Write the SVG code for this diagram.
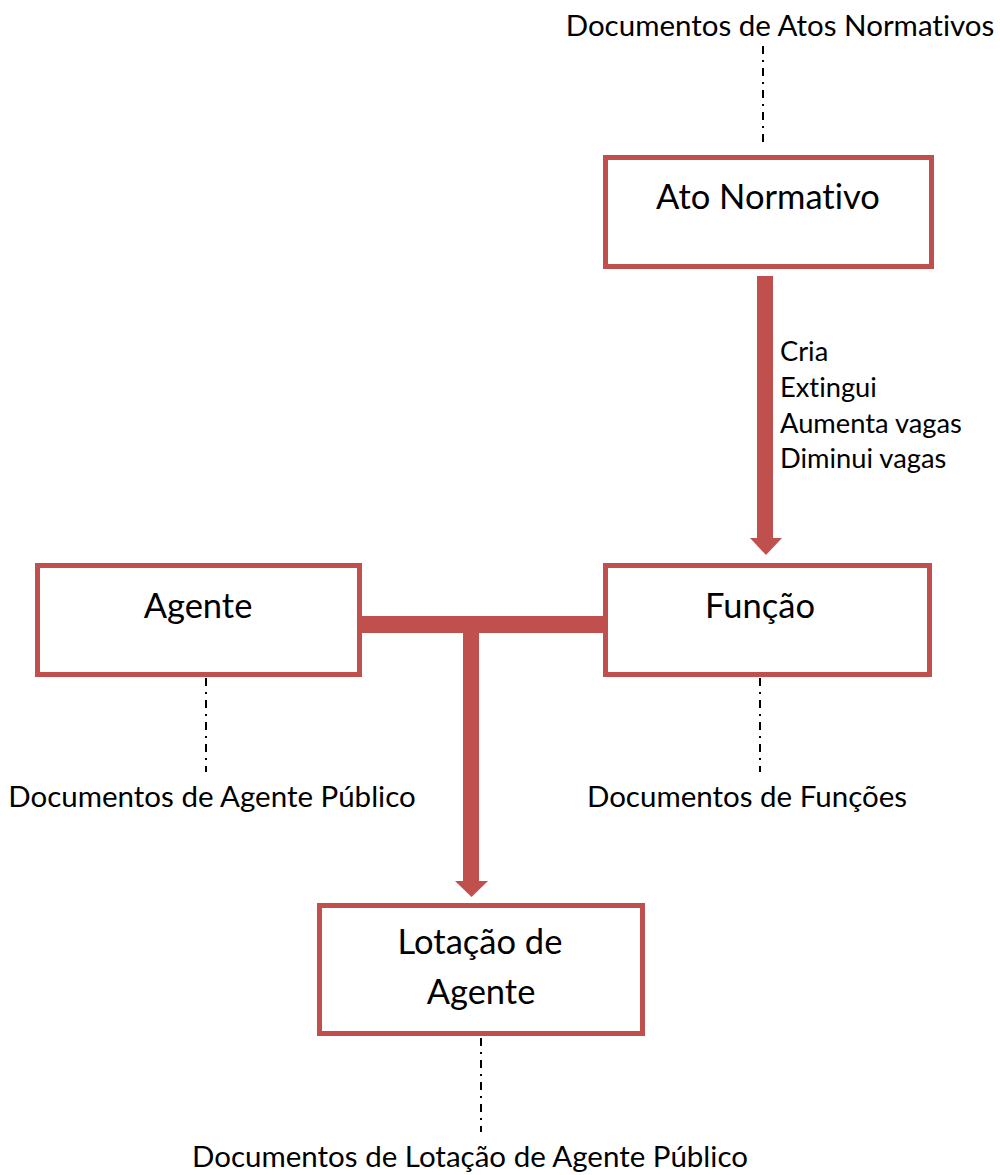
<svg xmlns="http://www.w3.org/2000/svg" width="1000" height="1175" viewBox="0 0 1000 1175">
<style>
.box{fill:#fff;stroke:#C0504D;stroke-width:5}
.t{font-family:Lato,"Open Sans",sans-serif;fill:#000;font-variant-ligatures:none;font-feature-settings:"liga" 0,"dlig" 0}
.big{font-size:34.5px;text-anchor:middle}
.doc{font-size:29.5px;text-anchor:middle}
.lbl{font-size:27.3px}
.dd{stroke:#000;stroke-width:2;stroke-dasharray:8 6 2 6;fill:none}
.bar{fill:#C0504D}
</style>
<rect width="1000" height="1175" fill="#fff"/>
<g id="connectors">
<line class="dd" x1="763" y1="46" x2="763" y2="142"/>
<line class="dd" x1="206" y1="678" x2="206" y2="772"/>
<line class="dd" x1="760" y1="678" x2="760" y2="772"/>
<line class="dd" x1="481" y1="1038" x2="481" y2="1132"/>
<rect class="bar" x="757" y="276" width="16" height="263"/>
<polygon class="bar" points="750,538 782,538 766,555"/>
<rect class="bar" x="362" y="616" width="241" height="17"/>
<rect class="bar" x="463" y="630" width="16" height="252"/>
<polygon class="bar" points="455,881 488,881 471.5,897"/>
<text class="t lbl" x="780" y="361">Cria</text>
<text class="t lbl" x="780" y="397">Extingui</text>
<text class="t lbl" x="780" y="433">Aumenta vagas</text>
<text class="t lbl" x="780" y="468">Diminui vagas</text>
</g>
<g id="doc-atos"><text class="t doc" x="780" y="36">Documentos de Atos Normativos</text></g>
<g id="ato-normativo">
<rect class="box" x="605.5" y="157.5" width="326" height="109"/>
<text class="t big" x="768" y="209">Ato Normativo</text>
</g>
<g id="agente">
<rect class="box" x="37.5" y="565.5" width="322" height="109"/>
<text class="t big" x="198" y="618">Agente</text>
</g>
<g id="funcao">
<rect class="box" x="605.5" y="565.5" width="324" height="109"/>
<text class="t big" x="760" y="618">Função</text>
</g>
<g id="doc-agente"><text class="t doc" x="212" y="807">Documentos de Agente Público</text></g>
<g id="doc-funcoes"><text class="t doc" x="747" y="807">Documentos de Funções</text></g>
<g id="lotacao">
<rect class="box" x="319.5" y="905.5" width="323" height="128"/>
<text class="t big" x="480" y="954">Lotação de</text>
<text class="t big" x="481" y="1004">Agente</text>
</g>
<g id="doc-lotacao"><text class="t doc" x="470" y="1167">Documentos de Lotação de Agente Público</text></g>
</svg>
